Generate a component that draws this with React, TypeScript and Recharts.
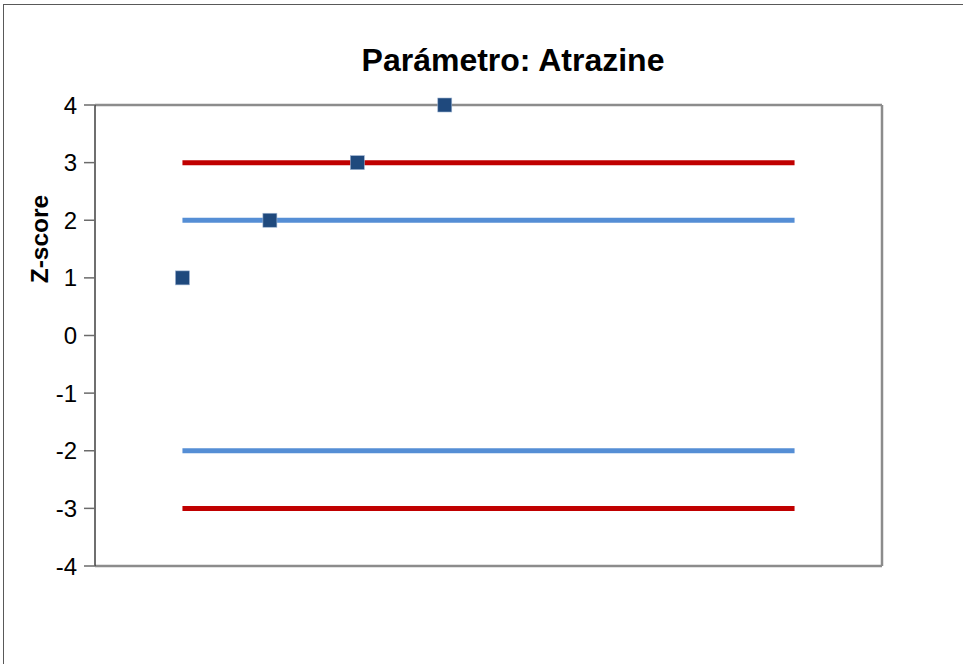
import React from "react";
import {
  ComposedChart,
  Line,
  Scatter,
  XAxis,
  YAxis,
  ReferenceLine,
} from "recharts";

const title = "Parámetro: Atrazine";
const yAxisTitle = "Z-score";
const labIndex = [1, 2, 3, 4];
const zScores = [1, 2, 3, 4];
const limitX = [1, 8];
const upperAction = 3;
const upperWarning = 2;
const lowerWarning = -2;
const lowerAction = -3;
const yTicks = [-4, -3, -2, -1, 0, 1, 2, 3, 4];

const pointData = labIndex.map((x, i) => ({ x, z: zScores[i] }));
const mkLine = (v: number) => limitX.map((x) => ({ x, v }));

const FONT = "'Liberation Sans', Arial, sans-serif";

const Square = (props: any) => {
  const { cx, cy } = props;
  if (cx == null || cy == null) return null;
  return (
    <rect
      x={cx - 7}
      y={cy - 7}
      width={14}
      height={14}
      fill="#1F497D"
      stroke="#9fb4d2"
      strokeWidth={0.6}
    />
  );
};

const YTick = (props: any) => {
  const { x, y, payload } = props;
  return (
    <text
      x={x + 1}
      y={y}
      dy={8.5}
      textAnchor="end"
      fontSize={24}
      fontFamily={FONT}
      fill="#000"
    >
      {payload.value}
    </text>
  );
};

export default function App() {
  return (
    <div
      style={{
        position: "fixed",
        left: 0,
        top: 0,
        width: 963,
        height: 664,
        background: "#fff",
        overflow: "hidden",
        fontFamily: FONT,
      }}
    >
      <div
        style={{
          position: "absolute",
          left: 3,
          top: 4,
          width: 1000,
          height: 800,
          borderTop: "1.5px solid #595959",
          borderLeft: "1.5px solid #595959",
        }}
      />
      <div
        style={{
          position: "absolute",
          left: 0,
          width: 1026,
          top: 42,
          textAlign: "center",
          fontSize: 32,
          fontWeight: "bold",
          color: "#000",
          lineHeight: "36px",
        }}
      >
        {title}
      </div>
      <div
        style={{
          position: "absolute",
          left: 40,
          top: 239,
          transform: "translate(-50%, -50%) rotate(-90deg)",
          fontSize: 24.5,
          fontWeight: "bold",
          color: "#000",
          whiteSpace: "nowrap",
          lineHeight: "26px",
        }}
      >
        {yAxisTitle}
      </div>
      <div style={{ position: "absolute", left: 0, top: 0 }}>
        <ComposedChart
          width={963}
          height={664}
          margin={{ top: 105, right: 81, bottom: 98, left: 0 }}
        >
          <XAxis type="number" dataKey="x" domain={[0, 9]} hide />
          <YAxis
            type="number"
            domain={[-4, 4]}
            ticks={yTicks}
            width={95}
            interval={0}
            axisLine={{ stroke: "#3f3f3f", strokeWidth: 1.5 }}
            tickLine={{ stroke: "#6b6b6b", strokeWidth: 1.5 }}
            tickSize={11}
            tickMargin={8}
            tick={<YTick />}
          />
          <ReferenceLine y={4} stroke="#8c8c8c" strokeWidth={2.5} />
          <ReferenceLine y={-4} stroke="#8c8c8c" strokeWidth={2.5} />
          <ReferenceLine x={9} stroke="#8c8c8c" strokeWidth={2.5} />
          <Line
            data={mkLine(upperAction)}
            dataKey="v"
            stroke="#C00000"
            strokeWidth={5}
            dot={false}
            activeDot={false}
            isAnimationActive={false}
          />
          <Line
            data={mkLine(upperWarning)}
            dataKey="v"
            stroke="#558ED5"
            strokeWidth={5}
            dot={false}
            activeDot={false}
            isAnimationActive={false}
          />
          <Line
            data={mkLine(lowerWarning)}
            dataKey="v"
            stroke="#558ED5"
            strokeWidth={5}
            dot={false}
            activeDot={false}
            isAnimationActive={false}
          />
          <Line
            data={mkLine(lowerAction)}
            dataKey="v"
            stroke="#C00000"
            strokeWidth={5}
            dot={false}
            activeDot={false}
            isAnimationActive={false}
          />
          <Scatter
            data={pointData}
            dataKey="z"
            shape={<Square />}
            isAnimationActive={false}
          />
        </ComposedChart>
      </div>
    </div>
  );
}
